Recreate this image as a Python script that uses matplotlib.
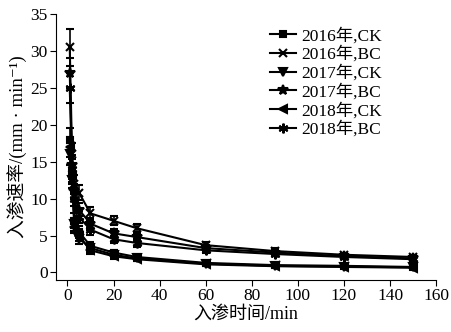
import numpy as np
import matplotlib.pyplot as plt

plt.rcParams['font.family'] = ['Liberation Serif', 'Noto Sans CJK SC', 'DejaVu Sans']
plt.rcParams['axes.unicode_minus'] = False

t = [1, 2, 3, 5, 10, 20, 30, 60, 90, 120, 150]
labels = ['2016年,CK', '2016年,BC', '2017年,CK', '2017年,BC', '2018年,CK', '2018年,BC']
ck16 = [18.0, 13.5, 7.0, 5.5, 3.6, 2.7, 2.1, 1.3, 1.0, 0.9, 0.75]
bc16 = [30.5, 16.0, 12.0, 10.8, 8.0, 7.0, 6.0, 3.7, 2.9, 2.4, 2.1]
ck17 = [16.0, 12.5, 6.5, 4.6, 3.3, 2.4, 1.9, 1.2, 0.9, 0.8, 0.7]
bc17 = [27.0, 14.5, 11.0, 8.5, 6.6, 5.3, 4.8, 3.3, 2.7, 2.2, 1.9]
ck18 = [17.0, 13.0, 6.2, 5.0, 3.0, 2.2, 1.8, 1.1, 0.85, 0.75, 0.65]
bc18 = [25.0, 14.0, 10.0, 7.5, 5.8, 4.5, 4.0, 3.0, 2.5, 2.1, 1.8]
err16c = [1.5, 1.2, 1.0, 0.8, 0.5, 0.4, 0.3, 0.2, 0.2, 0.2, 0.2]
err16b = [2.5, 1.5, 1.2, 1.0, 0.9, 0.6, 0.5, 0.4, 0.4, 0.3, 0.3]
err17c = [1.5, 1.0, 0.9, 0.7, 0.5, 0.4, 0.3, 0.2, 0.2, 0.2, 0.2]
err17b = [2.0, 1.4, 1.0, 0.9, 0.8, 0.6, 0.5, 0.4, 0.3, 0.3, 0.3]
err18c = [1.4, 1.0, 0.8, 0.7, 0.5, 0.4, 0.3, 0.2, 0.2, 0.2, 0.2]
err18b = [2.0, 1.3, 1.0, 0.8, 0.7, 0.5, 0.5, 0.4, 0.3, 0.3, 0.3]

series = [ck16, bc16, ck17, bc17, ck18, bc18]
errs = [err16c, err16b, err17c, err17b, err18c, err18b]
markers = ['s', 'x', 'v', '*', '<', (6, 2, 0)]
msizes = [5, 6, 6, 7, 6, 7]

fig = plt.figure(figsize=(4.51, 3.32), dpi=100)
ax = fig.add_axes([0.124, 0.157, 0.843, 0.801])

handles = []
for y, e, m, ms, lab in zip(series, errs, markers, msizes, labels):
    c = ax.errorbar(t, y, yerr=e, color='black', marker=m, markersize=ms,
                    markeredgewidth=1.5, linewidth=1.5, elinewidth=1.2,
                    capsize=3, capthick=1.0, label=lab)
    handles.append(c[0])

ax.set_xlim(-5, 160)
ax.set_ylim(-1, 35)
ax.set_xticks(np.arange(0, 161, 20))
ax.set_yticks(np.arange(0, 36, 5))
ax.spines['top'].set_visible(False)
ax.spines['right'].set_visible(False)
ax.tick_params(direction='out', length=4, width=0.8, labelsize=12.5, pad=2)
ax.set_xlabel('入渗时间/min', fontsize=13, labelpad=1)
ax.set_ylabel('入渗速率/(mm · min⁻¹)', fontsize=13.5, labelpad=2)

ax.legend(handles, labels, loc='upper left', bbox_to_anchor=(0.545, 0.975),
          frameon=False, fontsize=12.5, handlelength=1.5, handletextpad=0.3,
          labelspacing=0.12, borderaxespad=0)

fig.savefig('out.png', dpi=100)
